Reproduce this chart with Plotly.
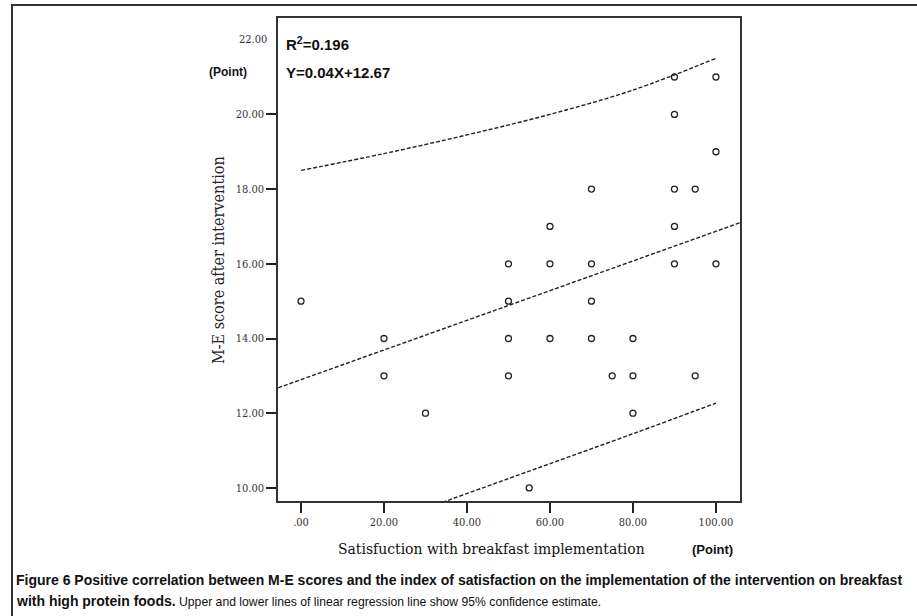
import plotly.graph_objects as go

# ---- data ----
sat_x = [0, 20, 20, 30, 50, 50, 50, 50, 55, 60, 60, 60, 70, 70, 70, 70, 75,
         80, 80, 80, 90, 90, 90, 90, 90, 95, 95, 100, 100, 100]
me_y = [15, 14, 13, 12, 16, 15, 14, 13, 10, 17, 16, 14, 18, 16, 15, 14, 13,
        14, 13, 12, 21, 20, 18, 17, 16, 18, 13, 21, 19, 16]

fit_x = [-5.5, 105.8]
fit_y = [12.68, 17.1]

upper_x = [0, 20, 40, 60, 80, 100]
upper_y = [18.5, 18.95, 19.45, 20.0, 20.65, 21.5]

lower_x = [30, 55, 80, 100]
lower_y = [9.45, 10.45, 11.45, 12.27]

x_ticks = [0, 20, 40, 60, 80, 100]
x_tick_text = [".00", "20.00", "40.00", "60.00", "80.00", "100.00"]
y_ticks = [10, 12, 14, 16, 18, 20]
y_tick_text = ["10.00", "12.00", "14.00", "16.00", "18.00", "20.00"]

X_RANGE = [-5.54, 105.8]
Y_RANGE = [9.65, 22.58]

serif = "DejaVu Serif Condensed, DejaVu Serif, Liberation Serif, serif"
sans = "Liberation Sans, Arial, sans-serif"

fig = go.Figure()

dash = "4px,2px"
fig.add_trace(go.Scatter(x=fit_x, y=fit_y, mode="lines",
                         line=dict(color="#222", width=1.4, dash=dash),
                         hoverinfo="skip", showlegend=False))
fig.add_trace(go.Scatter(x=upper_x, y=upper_y, mode="lines",
                         line=dict(color="#222", width=1.4, dash=dash, shape="spline"),
                         hoverinfo="skip", showlegend=False))
fig.add_trace(go.Scatter(x=lower_x, y=lower_y, mode="lines",
                         line=dict(color="#222", width=1.4, dash=dash, shape="spline"),
                         hoverinfo="skip", showlegend=False))
fig.add_trace(go.Scatter(x=sat_x, y=me_y, mode="markers",
                         marker=dict(symbol="circle-open", size=6,
                                     color="#222", line=dict(width=1.3)),
                         showlegend=False))

fig.update_xaxes(range=X_RANGE, tickvals=x_ticks, ticktext=x_tick_text,
                 ticks="outside", ticklen=10, tickwidth=1.5, tickcolor="#222",
                 showline=True, linecolor="#333", linewidth=1.5, mirror=True,
                 showgrid=False, zeroline=False,
                 tickfont=dict(family=serif, size=11, color="#333"))
fig.update_yaxes(range=Y_RANGE, tickvals=y_ticks, ticktext=y_tick_text,
                 ticks="outside", ticklen=10, tickwidth=1.5, tickcolor="#222",
                 showline=True, linecolor="#333", linewidth=1.5, mirror=True,
                 showgrid=False, zeroline=False,
                 tickfont=dict(family=serif, size=11, color="#333"))

W, H = 917, 616
L, R, T, B = 278, 740, 18, 501


def px(xp):
    return (xp - L) / (R - L)


def py(yp):
    return (B - yp) / (B - T)


annotations = [
    dict(x=-0.02, y=22, xref="paper", yref="y", text="22.00", showarrow=False,
         xanchor="right", yanchor="middle",
         font=dict(family=serif, size=11, color="#333")),
    dict(x=px(228), y=py(72), xref="paper", yref="paper", text="<b>(Point)</b>",
         showarrow=False, xanchor="center", yanchor="middle",
         font=dict(family=sans, size=12, color="#111")),
    dict(x=px(284), y=py(43), xref="paper", yref="paper", text="<b>R<sup>2</sup>=0.196</b>",
         showarrow=False, xanchor="left", yanchor="middle",
         font=dict(family=sans, size=15, color="#111")),
    dict(x=px(284), y=py(72), xref="paper", yref="paper", text="<b>Y=0.04X+12.67</b>",
         showarrow=False, xanchor="left", yanchor="middle",
         font=dict(family=sans, size=15, color="#111")),
    dict(x=px(491), y=py(549), xref="paper", yref="paper",
         text="Satisfuction with breakfast implementation",
         showarrow=False, xanchor="center", yanchor="middle",
         font=dict(family=serif, size=15.5, color="#111")),
    dict(x=px(712), y=py(549), xref="paper", yref="paper", text="<b>(Point)</b>",
         showarrow=False, xanchor="center", yanchor="middle",
         font=dict(family=sans, size=13, color="#111")),
    dict(x=px(218), y=py(260), xref="paper", yref="paper",
         text="M-E score after intervention", textangle=-90,
         showarrow=False, xanchor="center", yanchor="middle",
         font=dict(family=serif, size=16, color="#222")),
    dict(x=px(14), y=py(580), xref="paper", yref="paper",
         text="<b>Figure 6 Positive correlation between M-E scores and the index of satisfaction on the implementation of the intervention on breakfast</b>",
         showarrow=False, xanchor="left", yanchor="middle",
         font=dict(family=sans, size=14, color="#111")),
    dict(x=px(14), y=py(601), xref="paper", yref="paper",
         text="<b>with high protein foods.</b><span style=\"font-size:12.2px\"> Upper and lower lines of linear regression line show 95% confidence estimate.</span>",
         showarrow=False, xanchor="left", yanchor="middle",
         font=dict(family=sans, size=14, color="#111")),
]

shapes = [
    dict(type="rect", xref="paper", yref="paper",
         x0=px(12), x1=px(940), y0=py(640), y1=py(5),
         line=dict(color="#333", width=2), fillcolor="rgba(0,0,0,0)", layer="above"),
]

fig.update_layout(width=W, height=H,
                  margin=dict(l=L, r=W - R, t=T, b=H - B, pad=0),
                  paper_bgcolor="white", plot_bgcolor="white",
                  annotations=annotations, shapes=shapes, showlegend=False)

fig.write_html("out.html", config={"displayModeBar": False},
               post_script="document.body.style.margin='0';document.body.style.padding='0';")
